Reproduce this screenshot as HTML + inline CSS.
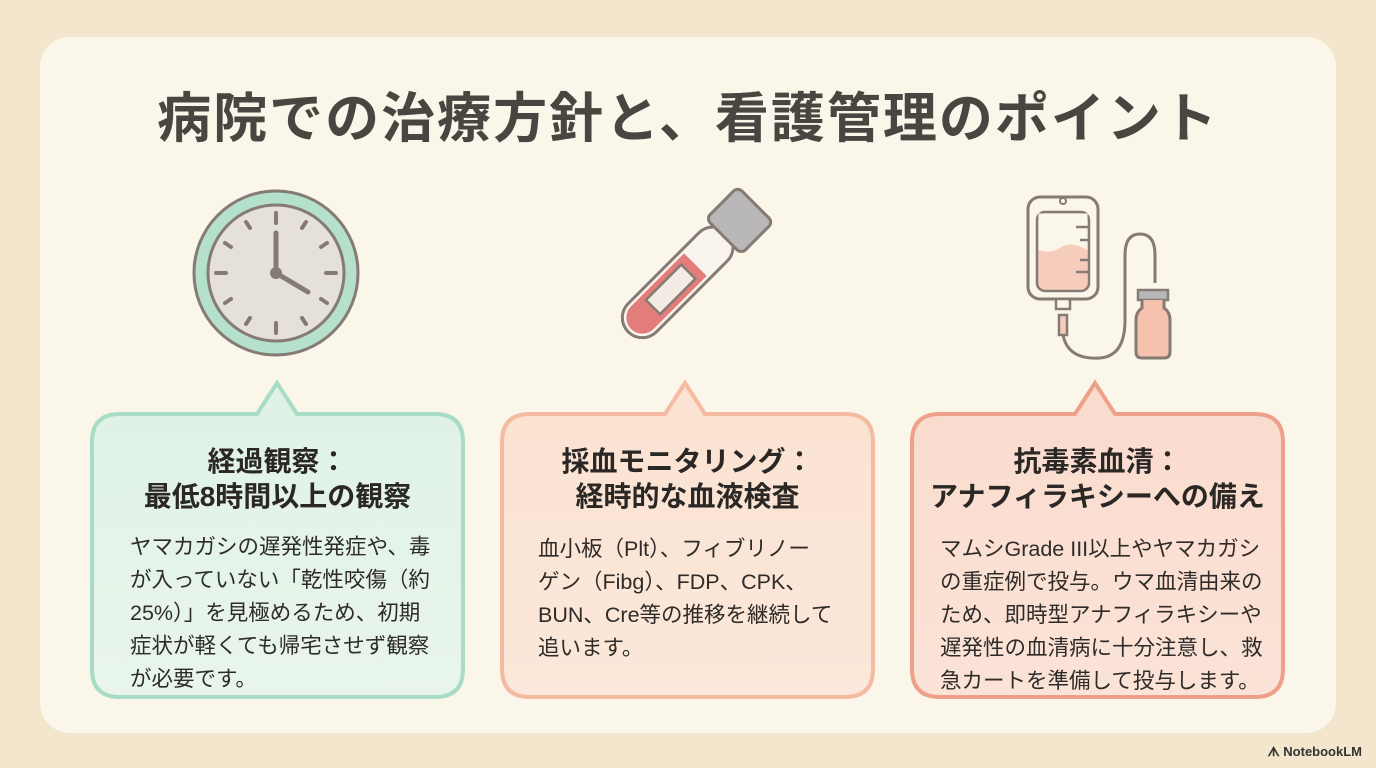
<!DOCTYPE html>
<html><head><meta charset="utf-8"><style>
*{margin:0;padding:0;box-sizing:border-box}
body{width:1376px;height:768px;background:#f3e6cd;position:relative;overflow:hidden;font-family:"Liberation Sans","Noto Sans CJK JP",sans-serif;color:#2e2b28}
.panel{position:absolute;left:40px;top:37px;width:1296px;height:696px;background:#fbf6ea;border-radius:30px}
.title{position:absolute;left:0;width:1376px;top:74px;text-align:center;font-size:54px;font-weight:bold;color:#4a4540;letter-spacing:2px}
svg{position:absolute;left:0;top:0}
.h{position:absolute;text-align:center;font-size:28px;font-weight:bold;line-height:35px;color:#2a2725;white-space:nowrap}
.b{position:absolute;font-size:21.5px;line-height:33px;color:#2e2b28;white-space:nowrap}
.logo{position:absolute;right:14px;bottom:8px;font-size:13px;color:#333;font-weight:bold}
</style></head><body>
<div class="panel"></div>
<div class="title">病院での治療方針と、看護管理のポイント</div>
<svg width="1376" height="768">
<defs>
<linearGradient id="g1" x1="0" y1="0" x2="0" y2="1"><stop offset="0" stop-color="#dff2e6"/><stop offset="1" stop-color="#e9f5ea"/></linearGradient>
<linearGradient id="g2" x1="0" y1="0" x2="0" y2="1"><stop offset="0" stop-color="#fbe2d1"/><stop offset="1" stop-color="#fbe8da"/></linearGradient>
<linearGradient id="g3" x1="0" y1="0" x2="0" y2="1"><stop offset="0" stop-color="#fadbcd"/><stop offset="1" stop-color="#fbe3d7"/></linearGradient>
</defs>
<path d="M120 414 H257 L277 383 L297 414 H435 Q463 414 463 442 V669 Q463 697 435 697 H120 Q92 697 92 669 V442 Q92 414 120 414Z" fill="url(#g1)" stroke="#a9dcc4" stroke-width="4"/>
<path d="M530 414 H665 L685 383 L705 414 H845 Q873 414 873 442 V669 Q873 697 845 697 H530 Q502 697 502 669 V442 Q502 414 530 414Z" fill="url(#g2)" stroke="#f4bba2" stroke-width="4"/>
<path d="M940 414 H1075 L1095 383 L1115 414 H1255 Q1283 414 1283 442 V669 Q1283 697 1255 697 H940 Q912 697 912 669 V442 Q912 414 940 414Z" fill="url(#g3)" stroke="#eda18a" stroke-width="4"/>
<circle cx="276" cy="273" r="82" fill="#b5e0cc" stroke="#857b74" stroke-width="3"/>
<circle cx="276" cy="273" r="68" fill="#e6e0da" stroke="#857b74" stroke-width="3"/>
<g stroke="#857b74" stroke-width="4" stroke-linecap="round">
<line x1="276" y1="213" x2="276" y2="223"/><line x1="276" y1="323" x2="276" y2="333"/>
<line x1="216" y1="273" x2="226" y2="273"/><line x1="326" y1="273" x2="336" y2="273"/>
<line x1="306" y1="222" x2="302" y2="228"/><line x1="246" y1="222" x2="250" y2="228"/>
<line x1="327" y1="243" x2="321" y2="247"/><line x1="225" y1="243" x2="231" y2="247"/>
<line x1="327" y1="303" x2="321" y2="299"/><line x1="225" y1="303" x2="231" y2="299"/>
<line x1="306" y1="324" x2="302" y2="318"/><line x1="246" y1="324" x2="250" y2="318"/>
<line x1="276" y1="273" x2="276" y2="233" stroke-width="5"/><line x1="276" y1="273" x2="308" y2="292" stroke-width="5"/>
</g>
<circle cx="276" cy="273" r="6" fill="#857b74"/>
<g transform="translate(660 300) rotate(45)">
<rect x="-20" y="-95" width="40" height="140" rx="20" fill="#faf4ee" stroke="#857b74" stroke-width="3"/>
<path d="M-16 -50 H16 V25 A16 16 0 0 1 -16 25Z" fill="#e37d7b"/>
<rect x="-25" y="-135" width="50" height="45" rx="6" fill="#b9b7b8" stroke="#857b74" stroke-width="3"/>
<rect x="-10" y="-40" width="20" height="50" fill="#f4ece4" stroke="#857b74" stroke-width="2.5"/>
</g>
<rect x="1028" y="197" width="70" height="102" rx="12" fill="#fbf6ea" stroke="#857b74" stroke-width="3"/>
<rect x="1037" y="212" width="52" height="79" rx="8" fill="#f6cdbc" stroke="#857b74" stroke-width="2.5"/>
<path d="M1038.5 213.5 H1087.5 V250 Q1070 240 1060 248 Q1050 254 1038.5 250Z" fill="#fbf6ea"/>
<circle cx="1063" cy="201" r="3" fill="none" stroke="#857b74" stroke-width="2"/>
<g stroke="#857b74" stroke-width="2.5"><line x1="1076" y1="227" x2="1089" y2="227"/><line x1="1080" y1="240" x2="1089" y2="240"/><line x1="1080" y1="260" x2="1089" y2="260"/><line x1="1076" y1="272" x2="1089" y2="272"/></g>
<rect x="1056" y="299" width="14" height="10" fill="#fbf6ea" stroke="#857b74" stroke-width="2.5"/>
<rect x="1059" y="315" width="8" height="20" fill="#f6cdbc" stroke="#857b74" stroke-width="2.5"/>
<path d="M1063 335 Q1068 360 1100 358 Q1125 356 1125 320 V255 Q1125 234 1140 234 Q1155 234 1155 255 V283" fill="none" stroke="#857b74" stroke-width="3"/>
<rect x="1138" y="290" width="30" height="10" fill="#b9b7b8" stroke="#857b74" stroke-width="2.5"/>
<path d="M1142 300 V308 Q1136 312 1136 320 V352 Q1136 358 1142 358 H1164 Q1170 358 1170 352 V320 Q1170 312 1164 308 V300" fill="#f6c2ad" stroke="#857b74" stroke-width="3"/>
</svg>
<div class="h" style="left:92px;width:371px;top:444px">経過観察：<br>最低8時間以上の観察</div>
<div class="b" style="left:130px;top:531px">ヤマカガシの遅発性発症や、毒<br>が入っていない「乾性咬傷（約<br>25%）」を見極めるため、初期<br>症状が軽くても帰宅させず観察<br>が必要です。</div>
<div class="h" style="left:502px;width:371px;top:444px">採血モニタリング：<br>経時的な血液検査</div>
<div class="b" style="left:538px;top:533px">血小板（Plt）、フィブリノー<br>ゲン（Fibg）、FDP、CPK、<br>BUN、Cre等の推移を継続して<br>追います。</div>
<div class="h" style="left:912px;width:371px;top:444px">抗毒素血清：<br>アナフィラキシーへの備え</div>
<div class="b" style="left:940px;top:533px">マムシGrade III以上やヤマカガシ<br>の重症例で投与。ウマ血清由来の<br>ため、即時型アナフィラキシーや<br>遅発性の血清病に十分注意し、救<br>急カートを準備して投与します。</div>
<div class="logo">ᗑ NotebookLM</div>
</body></html>
